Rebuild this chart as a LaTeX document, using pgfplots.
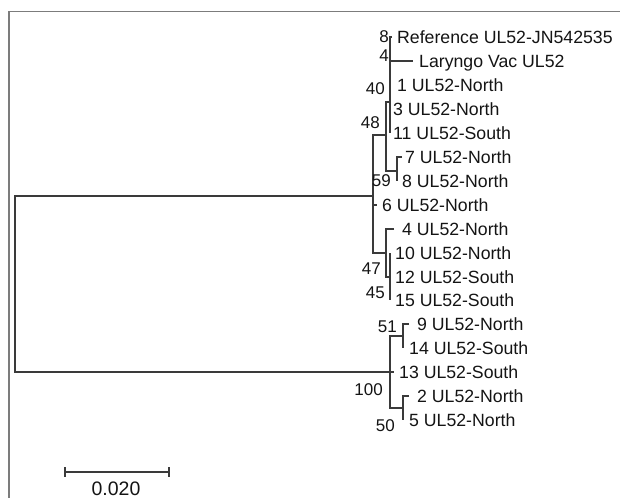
\documentclass[border=0pt]{standalone}
\usepackage{pgfplots}
\pgfplotsset{compat=1.18}
\usepackage{pgfplotstable}
\usepackage{fontspec}
\setmainfont{Liberation Sans}
\definecolor{treeline}{HTML}{3A3A3A}
\definecolor{framegray}{HTML}{7C7C7C}
\definecolor{txt}{HTML}{141414}

% leaf labels: text start x, row y (px from top), name
\pgfplotstableread[col sep=comma,row sep=\\]{
x,y,label\\
397,37,Reference UL52-JN542535\\
419,61,Laryngo Vac UL52\\
397,85,1 UL52-North\\
393,109,3 UL52-North\\
393,133,11 UL52-South\\
405,157,7 UL52-North\\
402,181,8 UL52-North\\
382,205,6 UL52-North\\
402,229,4 UL52-North\\
395,253,10 UL52-North\\
395,277,12 UL52-South\\
395,300,15 UL52-South\\
417,324,9 UL52-North\\
409,348,14 UL52-South\\
399,372,13 UL52-South\\
417,396,2 UL52-North\\
409,420,5 UL52-North\\
}\leaves

% bootstrap values: right edge x, centre y, value
\pgfplotstableread[col sep=comma,row sep=\\]{
x,y,label\\
389,37,8\\
389,56,4\\
385,88,40\\
380,122,48\\
391,180,59\\
381,268,47\\
385,292,45\\
397,326,51\\
383,389,100\\
395,425,50\\
}\boot

\begin{document}
\begin{tikzpicture}
\begin{axis}[
  at={(0,0)}, anchor=south west,
  scale only axis, width=620bp, height=498bp,
  xmin=0, xmax=620, ymin=0, ymax=498, y dir=reverse,
  hide axis, clip=false,
  tree/.style={treeline, line width=1.4bp, mark=none, line join=miter},
]
% frame of the figure
\draw[framegray, line width=1.6bp] (axis cs:9,498) -- (axis cs:9,11.5) -- (axis cs:620,11.5);

% root
\addplot[tree] coordinates {(373,196) (15,196) (15,372) (394,372)};
% upper clade
\addplot[tree] coordinates {(386,135) (373,135) (373,253) (386,253)};
\addplot[tree] coordinates {(373,205) (377,205)};
% clade with reference
\addplot[tree] coordinates {(390,102) (386,102) (386,171) (397,171)};
\addplot[tree] coordinates {(392,37) (390,37) (390,133)};
\addplot[tree] coordinates {(390,61) (413,61)};
\addplot[tree] coordinates {(402,157) (397,157) (397,181)};
% clade 4,10,12,15
\addplot[tree] coordinates {(394,229) (386,229) (386,277) (390,277)};
\addplot[tree] coordinates {(390,253) (390,300)};
% lower clade
\addplot[tree] coordinates {(403,336) (390,336) (390,408) (403,408)};
\addplot[tree] coordinates {(409,324) (403,324) (403,348)};
\addplot[tree] coordinates {(409,396) (403,396) (403,420)};
% scale bar
\addplot[tree] coordinates {(65,472) (169,472)};
\addplot[tree] coordinates {(65,467) (65,477)};
\addplot[tree] coordinates {(169,467) (169,477)};

% leaf names
\addplot[only marks, mark=*, mark size=0pt, nodes near coords, point meta=explicit symbolic,
  every node near coord/.append style={anchor=base west, inner sep=0pt, yshift=-6.3bp,
    text=txt, font=\fontsize{17.7bp}{21bp}\selectfont}]
  table[x=x, y=y, meta=label] {\leaves};
% bootstrap values
\addplot[only marks, mark=*, mark size=0pt, nodes near coords, point meta=explicit symbolic,
  every node near coord/.append style={anchor=base east, inner sep=0pt, yshift=-6.0bp,
    text=txt, font=\fontsize{17bp}{20bp}\selectfont}]
  table[x=x, y=y, meta=label] {\boot};
% scale label
\addplot[only marks, mark=*, mark size=0pt, nodes near coords, point meta=explicit symbolic,
  every node near coord/.append style={anchor=base, inner sep=0pt, yshift=-7.0bp,
    text=txt, font=\fontsize{19.5bp}{22bp}\selectfont}]
  coordinates {(116,488)[0.020]};
\end{axis}
\pgfresetboundingbox
\path (0,0) rectangle (620bp,498bp);
\end{tikzpicture}
\end{document}
